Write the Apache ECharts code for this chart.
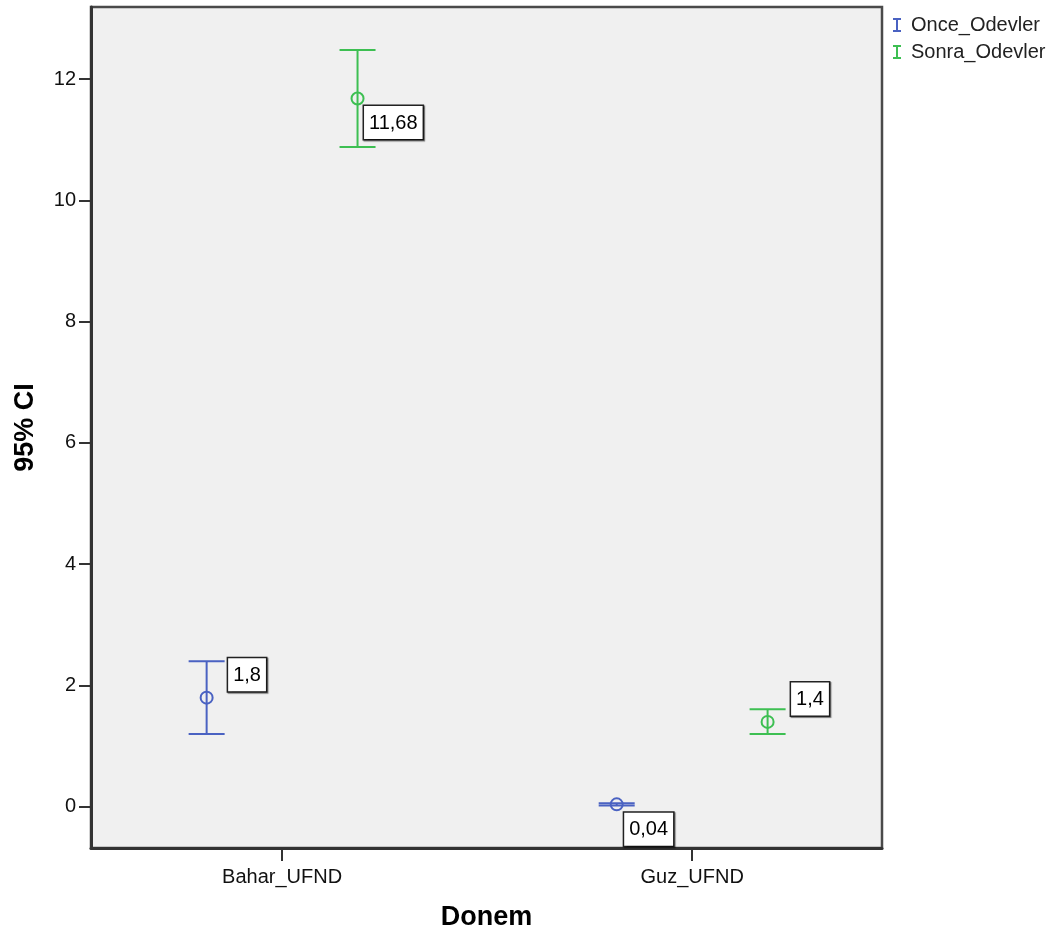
<!DOCTYPE html>
<html>
<head>
<meta charset="utf-8">
<script src="https://cdn.jsdelivr.net/npm/echarts@6/dist/echarts.min.js"></script>
<style>
  html, body { margin: 0; padding: 0; background: #ffffff; }
  #chart { width: 1058px; height: 938px; }
</style>
</head>
<body>
<div id="chart"></div>
<script>
// ---- data ----
const categories = ['Bahar_UFND', 'Guz_UFND'];
const seriesNames = ['Once_Odevler', 'Sonra_Odevler'];
const onceMean  = [1.8, 0.04];
const onceLow   = [1.2, 0.02];
const onceHigh  = [2.4, 0.06];
const sonraMean = [11.68, 1.4];
const sonraLow  = [10.88, 1.2];
const sonraHigh = [12.48, 1.61];
const yTickValues = [0, 2, 4, 6, 8, 10, 12];

// ---- styles ----
const FONT = 'Liberation Sans, Arial, sans-serif';
const COLORS = ['#4a62c2', '#3dbf52'];
const GROUP_OFFSET = 0.184;   // cluster offset within a category (axis units)
const CAP_HALF = 18;          // px
const LABEL_POS = [           // label box position relative to symbol, per series / category
  [[28.5, -32.5], [14.5, 15.5]],
  [[13.5, 14.5], [30.5, -32.5]]
];

const means = [onceMean, sonraMean];
const lows = [onceLow, sonraLow];
const highs = [onceHigh, sonraHigh];

function fmt(v) { return String(v).replace('.', ','); }

const series = [];
seriesNames.forEach((name, s) => {
  const off = s === 0 ? -GROUP_OFFSET : GROUP_OFFSET;
  const color = COLORS[s];
  series.push({
    name: name,
    type: 'custom',
    z: 2,
    itemStyle: { color: color },
    encode: { x: 0, y: [1, 2] },
    data: categories.map((c, i) => [i + off, lows[s][i], highs[s][i]]),
    renderItem: function (params, api) {
      const x = api.value(0);
      const pLo = api.coord([x, api.value(1)]);
      const pHi = api.coord([x, api.value(2)]);
      const st = { stroke: color, lineWidth: 2 };
      return {
        type: 'group',
        children: [
          { type: 'line', shape: { x1: pLo[0], y1: pLo[1], x2: pHi[0], y2: pHi[1] }, style: st },
          { type: 'line', shape: { x1: pLo[0] - CAP_HALF, y1: pLo[1], x2: pLo[0] + CAP_HALF, y2: pLo[1] }, style: st },
          { type: 'line', shape: { x1: pHi[0] - CAP_HALF, y1: pHi[1], x2: pHi[0] + CAP_HALF, y2: pHi[1] }, style: st }
        ]
      };
    }
  });
  series.push({
    name: name,
    type: 'scatter',
    z: 3,
    symbol: 'circle',
    symbolSize: 12,
    itemStyle: { color: 'rgba(0,0,0,0)', borderColor: color, borderWidth: 2, opacity: 1 },
    emphasis: { disabled: true },
    data: categories.map((c, i) => ({
      value: [i + off, means[s][i]],
      label: { position: LABEL_POS[s][i] }
    })),
    label: {
      show: true,
      formatter: p => fmt(p.value[1]),
      color: '#000',
      fontFamily: FONT,
      fontSize: 20,
      lineHeight: 22,
      align: 'left',
      verticalAlign: 'top',
      backgroundColor: '#ffffff',
      borderColor: '#222',
      borderWidth: 1.5,
      padding: [6, 5, 5, 5],
      shadowColor: 'rgba(0,0,0,0.5)',
      shadowOffsetX: 1,
      shadowOffsetY: 1,
      shadowBlur: 1
    }
  });
});

const chart = echarts.init(document.getElementById('chart'), null, { renderer: 'canvas' });
chart.setOption({
  animation: false,
  backgroundColor: '#ffffff',
  grid: {
    left: 91, top: 7, right: 176, bottom: 90,
    show: true,
    backgroundColor: '#f0f0f0',
    borderColor: '#4a4a4a',
    borderWidth: 2.5
  },
  legend: {
    orient: 'vertical',
    left: 888,
    top: 10,
    itemWidth: 8,
    itemHeight: 14,
    itemGap: 7,
    selectedMode: false,
    textStyle: { fontFamily: FONT, fontSize: 20, color: '#222', padding: [0, 0, 0, 5] },
    data: seriesNames.map(n => ({
      name: n,
      icon: 'path://M0,0H8V2H5V12H8V14H0V12H3V2H0Z'
    }))
  },
  xAxis: {
    type: 'value',
    min: -0.466,
    max: 1.463,
    name: 'Donem',
    nameLocation: 'middle',
    nameGap: 56,
    nameTextStyle: { fontFamily: FONT, fontSize: 27, fontWeight: 'bold', color: '#000' },
    axisLine: { show: true, onZero: false, lineStyle: { color: '#333', width: 3 } },
    axisTick: { show: true, customValues: [0, 1], length: 13, lineStyle: { color: '#333', width: 2 } },
    axisLabel: {
      customValues: [0, 1],
      formatter: v => categories[Math.round(v)],
      fontFamily: FONT, fontSize: 20, color: '#111', margin: 19
    },
    splitLine: { show: false }
  },
  yAxis: {
    type: 'value',
    min: -0.68,
    max: 13.19,
    name: '95% CI',
    nameLocation: 'middle',
    nameGap: 52,
    nameTextStyle: { fontFamily: FONT, fontSize: 27, fontWeight: 'bold', color: '#000' },
    axisLine: { show: true, onZero: false, lineStyle: { color: '#333', width: 3 } },
    axisTick: { show: true, customValues: yTickValues, length: 12, lineStyle: { color: '#333', width: 2 } },
    axisLabel: {
      customValues: yTickValues,
      fontFamily: FONT, fontSize: 20, color: '#111', margin: 15
    },
    splitLine: { show: false }
  },
  series: series
});
</script>
</body>
</html>
